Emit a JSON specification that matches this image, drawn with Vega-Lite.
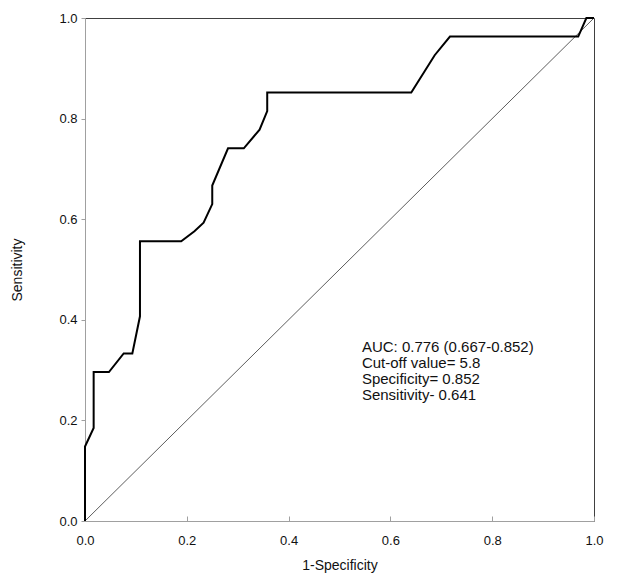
{
  "$schema": "https://vega.github.io/schema/vega-lite/v6.json",
  "width": 509,
  "height": 503,
  "autosize": "none",
  "padding": {"left": 85, "top": 18, "right": 23, "bottom": 65},
  "background": "white",
  "config": {
    "font": "Liberation Sans",
    "view": {"stroke": "#404040", "strokeWidth": 1},
    "axis": {
      "grid": false,
      "domainColor": "#a0a0a0",
      "tickColor": "#a0a0a0",
      "labelColor": "#111111",
      "titleColor": "#111111",
      "labelFontSize": 13,
      "titleFontSize": 14,
      "titleFontWeight": "normal",
      "labelFont": "Liberation Sans",
      "titleFont": "Liberation Sans",
      "labelFlush": false
    }
  },
  "datasets": {
    "roc": [
      {"i": 0, "fpr": 0, "tpr": 0},
      {"i": 1, "fpr": 0, "tpr": 0.148},
      {"i": 2, "fpr": 0.017, "tpr": 0.185},
      {"i": 3, "fpr": 0.017, "tpr": 0.296},
      {"i": 4, "fpr": 0.047, "tpr": 0.296},
      {"i": 5, "fpr": 0.076, "tpr": 0.333},
      {"i": 6, "fpr": 0.093, "tpr": 0.333},
      {"i": 7, "fpr": 0.108, "tpr": 0.407},
      {"i": 8, "fpr": 0.108, "tpr": 0.556},
      {"i": 9, "fpr": 0.189, "tpr": 0.556},
      {"i": 10, "fpr": 0.215, "tpr": 0.576},
      {"i": 11, "fpr": 0.233, "tpr": 0.593},
      {"i": 12, "fpr": 0.25, "tpr": 0.63},
      {"i": 13, "fpr": 0.25, "tpr": 0.667},
      {"i": 14, "fpr": 0.281, "tpr": 0.741},
      {"i": 15, "fpr": 0.312, "tpr": 0.741},
      {"i": 16, "fpr": 0.343, "tpr": 0.778},
      {"i": 17, "fpr": 0.358, "tpr": 0.815},
      {"i": 18, "fpr": 0.358, "tpr": 0.852},
      {"i": 19, "fpr": 0.641, "tpr": 0.852},
      {"i": 20, "fpr": 0.687, "tpr": 0.926},
      {"i": 21, "fpr": 0.717, "tpr": 0.963},
      {"i": 22, "fpr": 0.969, "tpr": 0.963},
      {"i": 23, "fpr": 0.985, "tpr": 1.0},
      {"i": 24, "fpr": 1.0, "tpr": 1.0}
    ],
    "diag": [
      {"fpr": 0, "tpr": 0},
      {"fpr": 1, "tpr": 1}
    ],
    "note": [
      {"fpr": 0.544, "tpr": 0.335, "label": ["AUC: 0.776 (0.667-0.852)", "Cut-off value= 5.8", "Specificity= 0.852", "Sensitivity- 0.641"]}
    ]
  },
  "layer": [
    {
      "data": {"name": "diag"},
      "mark": {"type": "line", "color": "#333333", "strokeWidth": 0.8},
      "encoding": {
        "x": {"field": "fpr", "type": "quantitative", "scale": {"domain": [0, 1]},
          "axis": {"title": "1-Specificity", "values": [0, 0.2, 0.4, 0.6, 0.8, 1.0], "format": ".1f", "tickSize": -5, "labelPadding": 18, "titlePadding": 11}},
        "y": {"field": "tpr", "type": "quantitative", "scale": {"domain": [0, 1]},
          "axis": {"title": "Sensitivity", "values": [0, 0.2, 0.4, 0.6, 0.8, 1.0], "format": ".1f", "tickSize": 4, "labelPadding": 4, "titlePadding": 34}}
      }
    },
    {
      "data": {"name": "roc"},
      "mark": {"type": "line", "color": "#000000", "strokeWidth": 2, "strokeJoin": "miter"},
      "encoding": {
        "x": {"field": "fpr", "type": "quantitative"},
        "y": {"field": "tpr", "type": "quantitative"},
        "order": {"field": "i", "type": "quantitative"}
      }
    },
    {
      "data": {"name": "note"},
      "mark": {"type": "text", "align": "left", "baseline": "alphabetic", "fontSize": 15, "lineHeight": 16, "color": "#111111", "font": "Liberation Sans"},
      "encoding": {
        "x": {"field": "fpr", "type": "quantitative"},
        "y": {"field": "tpr", "type": "quantitative"},
        "text": {"field": "label"}
      }
    }
  ]
}
